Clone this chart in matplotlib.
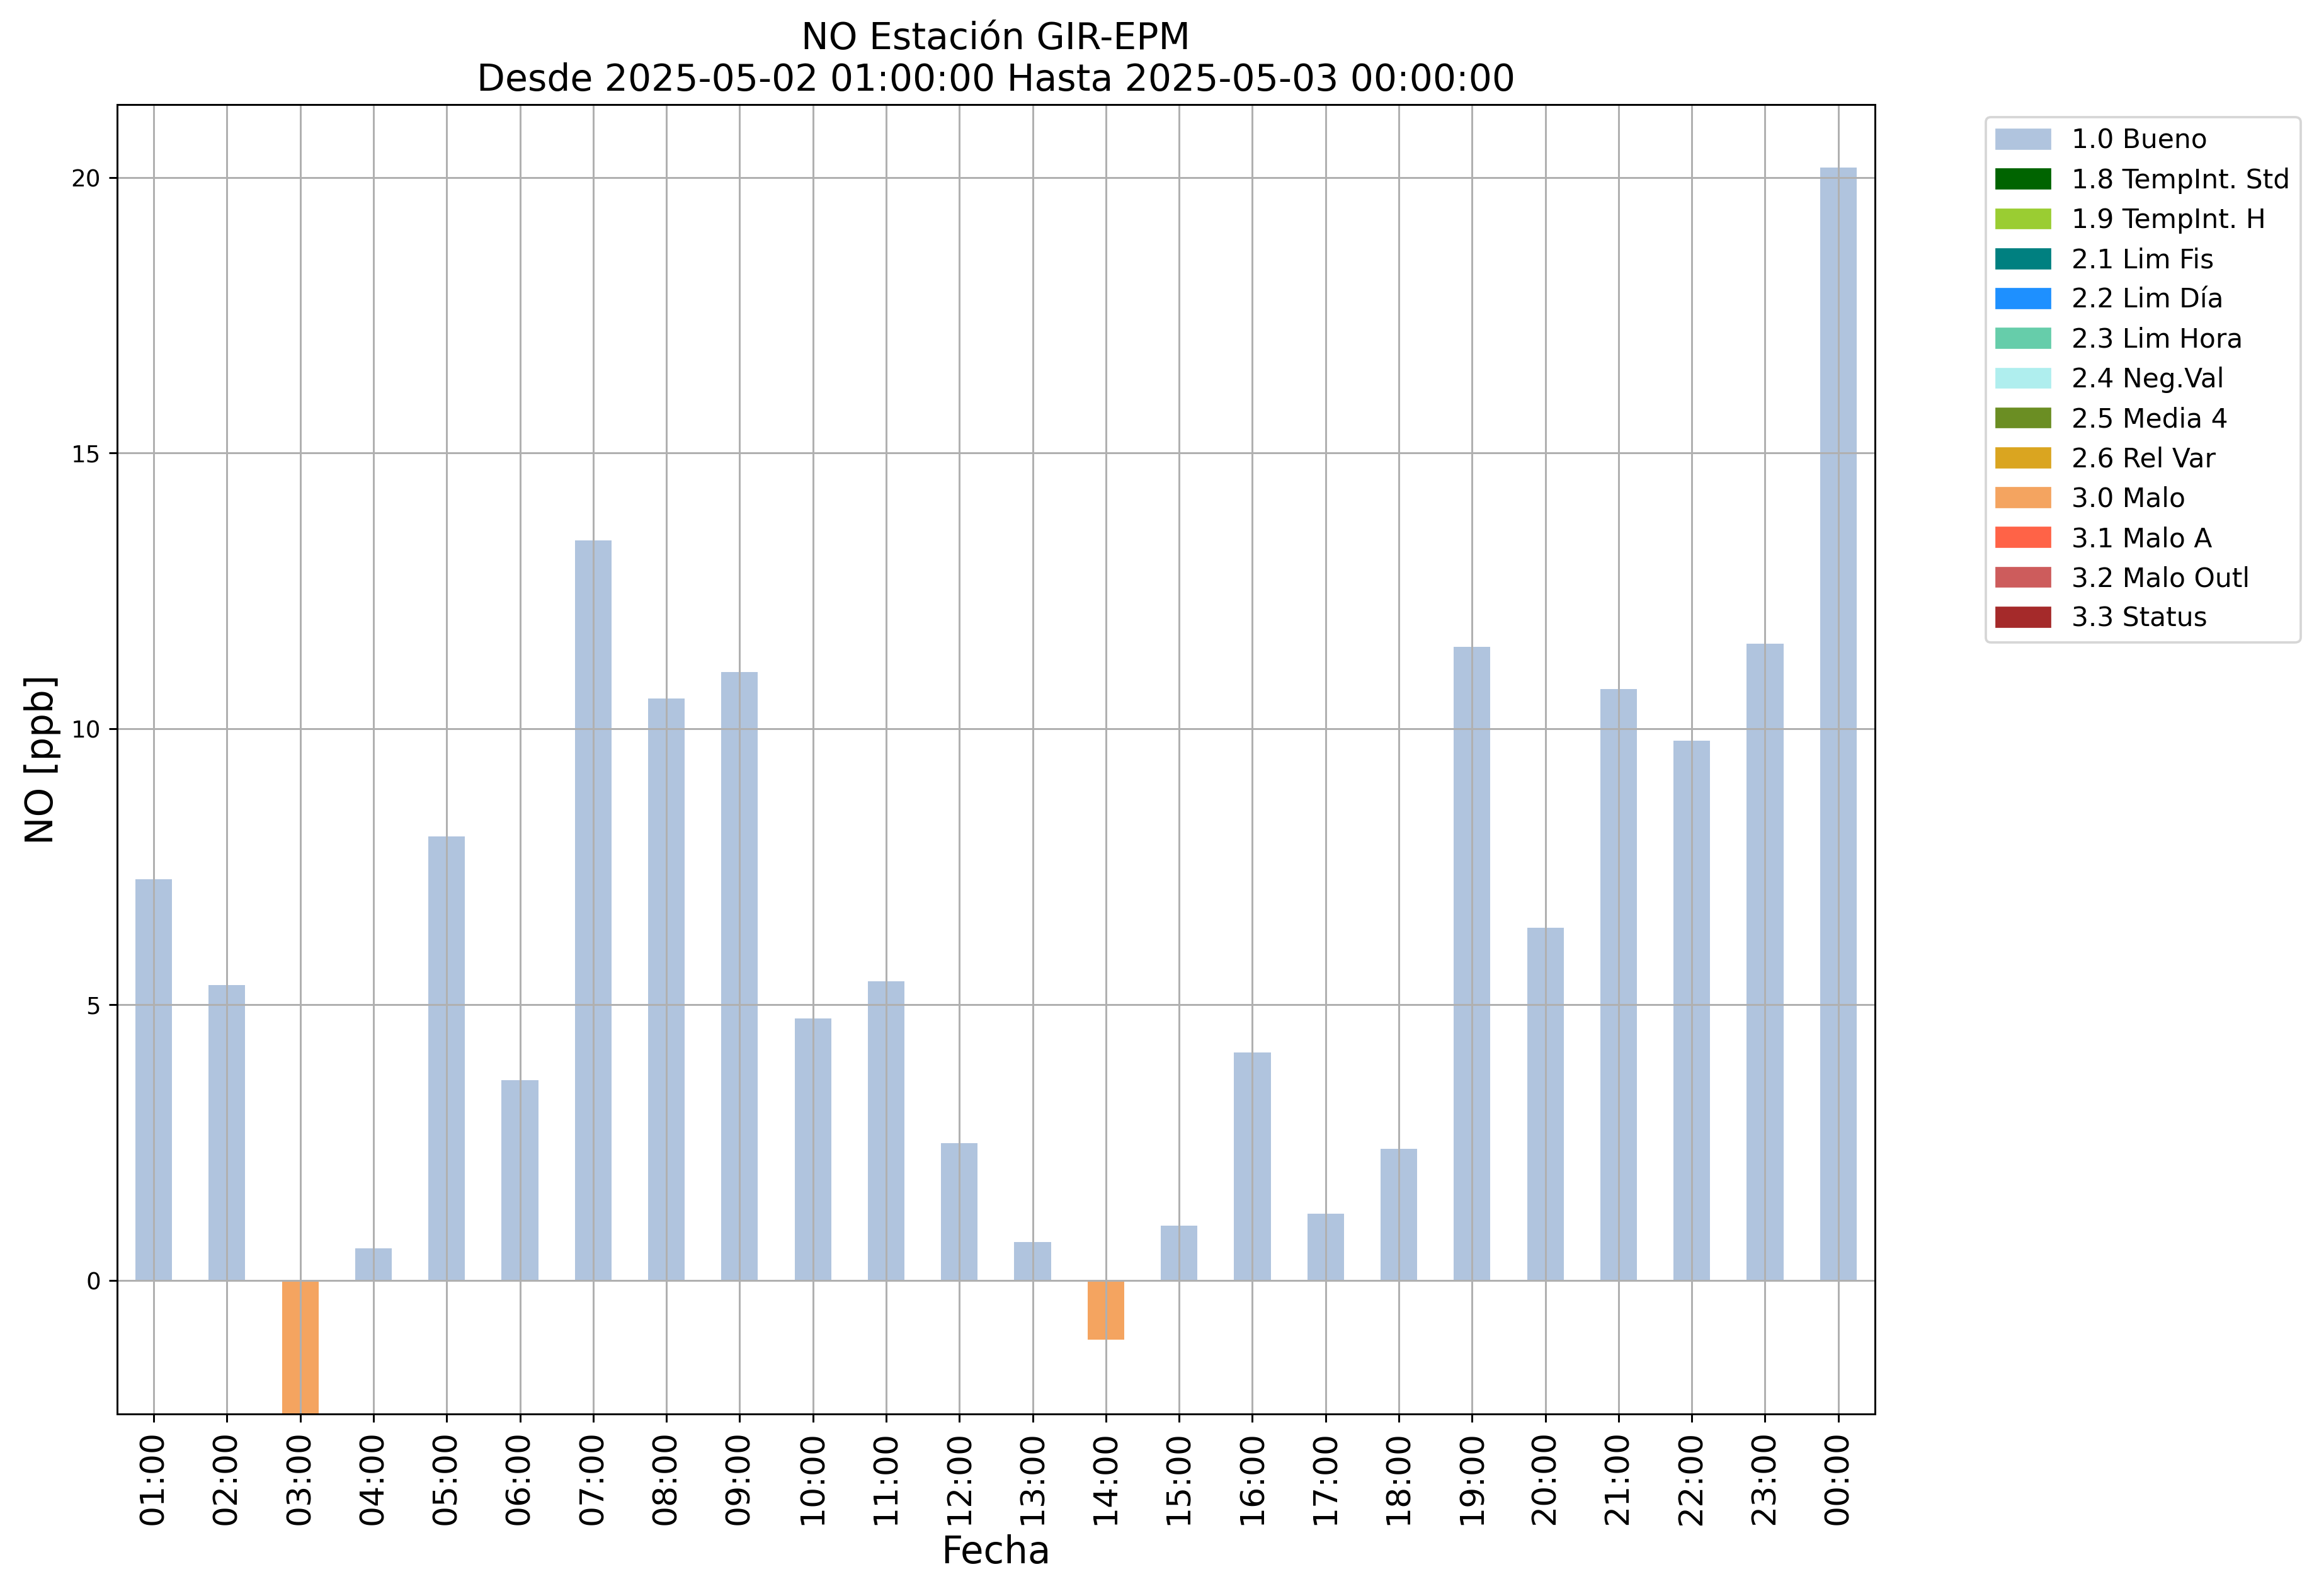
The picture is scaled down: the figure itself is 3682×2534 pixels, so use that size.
import matplotlib
matplotlib.use('Agg')
import matplotlib.pyplot as plt
import matplotlib.patches as mpatches

# Datos: concentracion horaria de NO y bandera de calidad
horas = ['01:00', '02:00', '03:00', '04:00', '05:00', '06:00', '07:00', '08:00',
         '09:00', '10:00', '11:00', '12:00', '13:00', '14:00', '15:00', '16:00',
         '17:00', '18:00', '19:00', '20:00', '21:00', '22:00', '23:00', '00:00']
valores = [7.27, 5.36, -4.0, 0.59, 8.05, 3.63, 13.42, 10.55,
           11.03, 4.75, 5.42, 2.49, 0.70, -1.07, 1.00, 4.14,
           1.21, 2.39, 11.49, 6.40, 10.72, 9.79, 11.55, 20.18]
banderas = [1.0, 1.0, 3.0, 1.0, 1.0, 1.0, 1.0, 1.0,
            1.0, 1.0, 1.0, 1.0, 1.0, 3.0, 1.0, 1.0,
            1.0, 1.0, 1.0, 1.0, 1.0, 1.0, 1.0, 1.0]

# Banderas de calidad y sus colores
codigos = [1.0, 1.8, 1.9, 2.1, 2.2, 2.3, 2.4, 2.5, 2.6, 3.0, 3.1, 3.2, 3.3]
nombres = ['1.0 Bueno', '1.8 TempInt. Std', '1.9 TempInt. H', '2.1 Lim Fis',
           '2.2 Lim Día', '2.3 Lim Hora', '2.4 Neg.Val', '2.5 Media 4',
           '2.6 Rel Var', '3.0 Malo', '3.1 Malo A', '3.2 Malo Outl', '3.3 Status']
colores = ['lightsteelblue', 'darkgreen', 'yellowgreen', 'teal', 'dodgerblue',
           'mediumaquamarine', 'paleturquoise', 'olivedrab', 'goldenrod',
           'sandybrown', 'tomato', 'indianred', 'brown']

color_por_codigo = dict(zip(codigos, colores))
colores_barras = [color_por_codigo[b] for b in banderas]

fig = plt.figure(figsize=(3682 / 268, 2534 / 268), dpi=268)
ax = fig.add_axes([0.0505, 0.114, 0.758, 0.8205])

x = list(range(len(horas)))
ax.bar(x, valores, width=0.5, color=colores_barras)
ax.set_xlim(-0.5, len(horas) - 0.5)
ax.set_ylim(-2.42, 21.32)
ax.set_xticks(x)
ax.set_xticklabels(horas, rotation=90, fontsize=14)
ax.tick_params(axis='y', labelsize=10)
ax.grid(True)

ax.set_xlabel('Fecha', fontsize=16)
ax.set_ylabel('NO [ppb]', fontsize=16)
ax.set_title('NO Estación GIR-EPM\nDesde 2025-05-02 01:00:00 Hasta 2025-05-03 00:00:00',
             fontsize=15.7)

# Leyenda con todas las banderas
parches = [mpatches.Patch(color=c, label=n) for c, n in zip(colores, nombres)]
ax.legend(handles=parches, bbox_to_anchor=(1.063, 0.9904), loc='upper left',
          borderaxespad=0, fontsize=11.4)

plt.savefig('out.png', dpi=268)
